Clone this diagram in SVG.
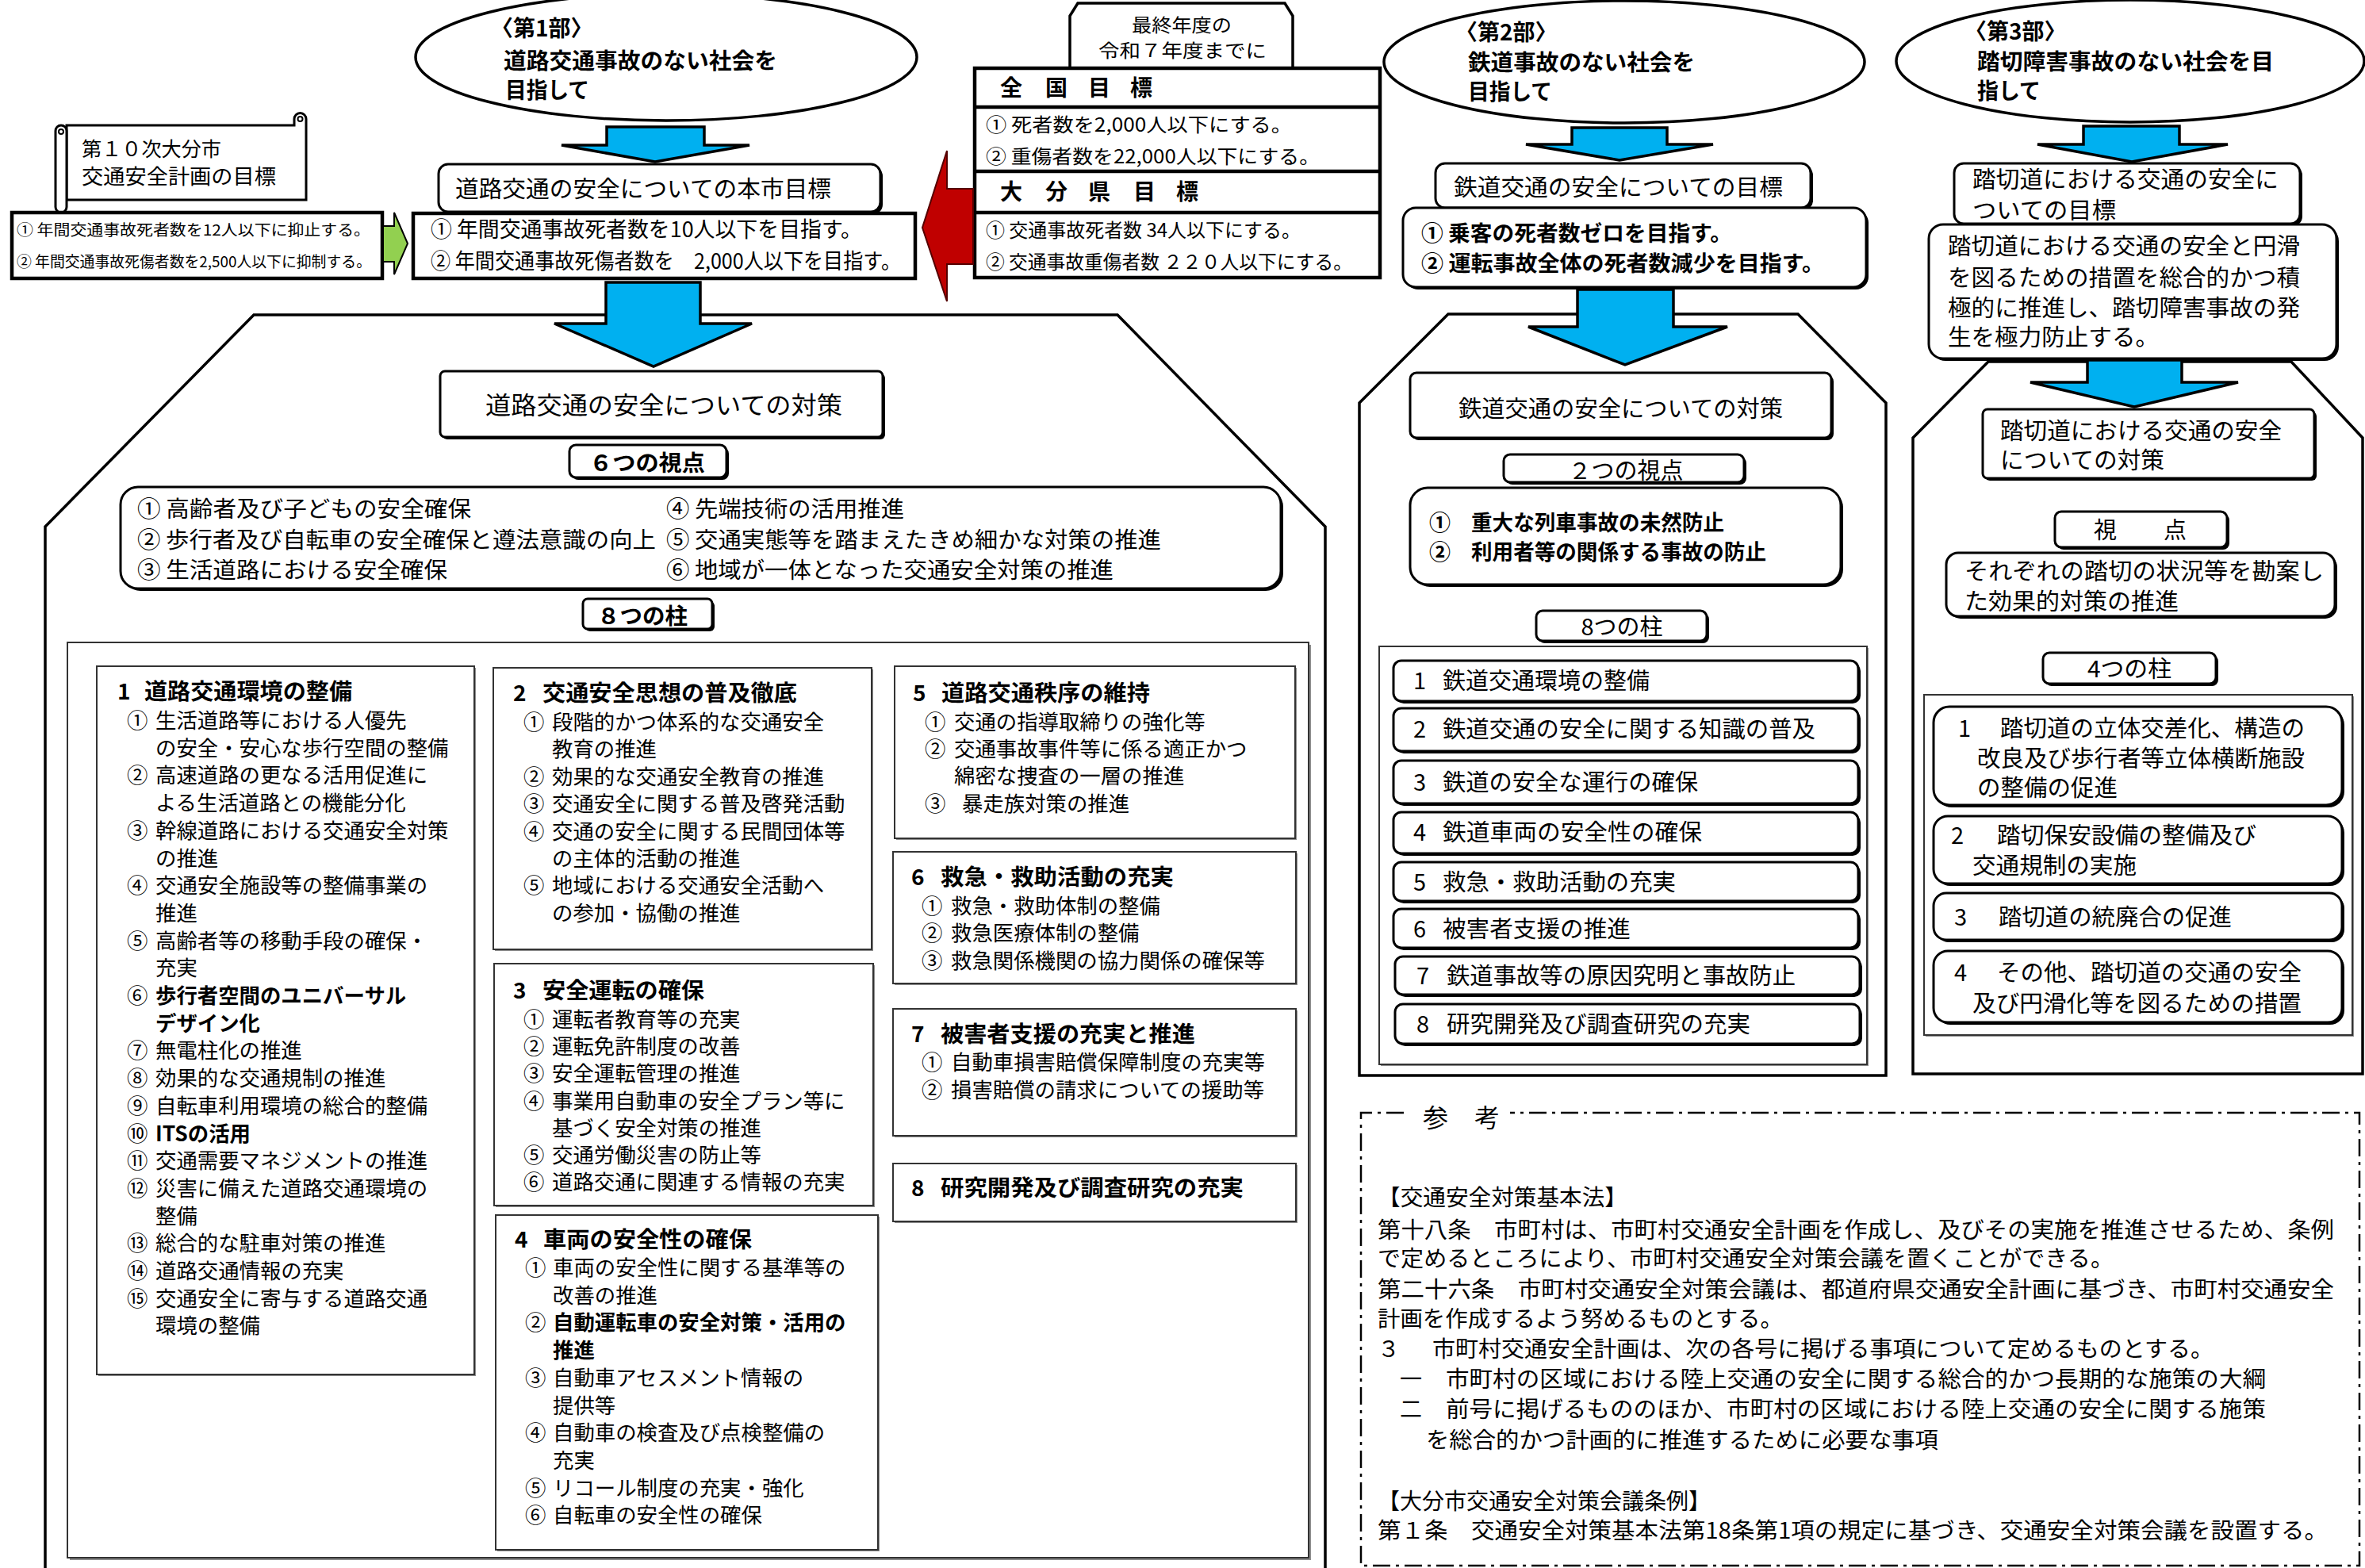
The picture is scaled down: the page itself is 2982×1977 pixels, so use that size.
<svg xmlns="http://www.w3.org/2000/svg" width="2982" height="1977" viewBox="0 0 2982 1977">
<style>
text{font-family:"Noto Sans CJK JP","Noto Sans CJK SC",sans-serif;fill:#000}
.b{font-weight:bold}
.s19{font-size:19px}.s23{font-size:23px}.s24{font-size:24px}.s25{font-size:25px}.s26{font-size:26px}.s265{font-size:26.4px}.s27{font-size:27px}.s28{font-size:28px}.s29{font-size:29px}.s31{font-size:31px}.s32{font-size:32px}
.bx{fill:#fff;stroke:#000;stroke-width:3}
.bx4{fill:#fff;stroke:#000;stroke-width:4.5}
.shd{fill:#000}
.gs{fill:#8c8c8c}
.pl{fill:#fff;stroke:#333;stroke-width:2}
.pan{fill:#fff;stroke:#000;stroke-width:3.5}
.ell{fill:#fff;stroke:#000;stroke-width:3.5}
.arr{fill:#00B0F0;stroke:#000;stroke-width:3.5;stroke-linejoin:miter}
.ln{stroke:#000;stroke-width:4.5;fill:none}
.dd{stroke:#000;stroke-width:2.5;fill:none;stroke-dasharray:22 7 4 7}
</style>

<!-- panels (background) -->
<g id="panel-road">
<path class="pan" d="M57 1985 V664 L320 397 H1409 L1671 664 V1985"/>
</g>
<g id="panel-rail">
<path class="pan" d="M1826 396 H2267 L2378 508 V1356 H1714 V508 Z"/>
</g>
<g id="panel-crossing">
<path class="pan" d="M2507 456 H2889 L2979 552 V1354 H2412 V552 Z"/>
</g>

<!-- top-left scroll -->
<g id="scroll-plan">
<path class="bx" d="M84 158 H371 V150 A7.5 7.5 0 0 1 386 150 V252 H84 Z"/>
<circle cx="378.5" cy="150" r="3" fill="none" stroke="#000" stroke-width="2"/>
<path class="bx" d="M84 165 V261 A7 7 0 0 1 70 261 V165 A7 7 0 0 1 84 165 Z"/>
<circle cx="77" cy="166" r="3" fill="none" stroke="#000" stroke-width="2"/>
<text class="s25" x="103" y="197" textLength="176" lengthAdjust="spacingAndGlyphs">第１０次大分市</text>
<text class="s26" x="103" y="232" textLength="245" lengthAdjust="spacingAndGlyphs">交通安全計画の目標</text>
</g>

<g id="plan10-targets">
<rect class="bx4" x="15" y="268" width="467" height="83"/>
<text class="s19" x="21" y="297" textLength="446" lengthAdjust="spacingAndGlyphs">① 年間交通事故死者数を12人以下に抑止する。</text>
<text class="s19" x="21" y="337" textLength="447" lengthAdjust="spacingAndGlyphs">② 年間交通事故死傷者数を2,500人以下に抑制する。</text>
</g>

<!-- part 1 -->
<g id="part1-ellipse">
<ellipse class="ell" cx="840" cy="72" rx="316" ry="80"/>
<text class="s28 b" x="619" y="46">〈第1部〉</text>
<text class="s28 b" x="635" y="87" textLength="345" lengthAdjust="spacingAndGlyphs">道路交通事故のない社会を</text>
<text class="s28 b" x="637" y="124" textLength="106" lengthAdjust="spacingAndGlyphs">目指して</text>
</g>

<g id="road-goal-title">
<rect class="shd" x="556" y="210" width="557" height="60" rx="12"/>
<rect class="bx" x="553" y="207" width="557" height="60" rx="12"/>
<text class="s29" x="574" y="249" textLength="474" lengthAdjust="spacingAndGlyphs">道路交通の安全についての本市目標</text>
</g>

<g id="road-goal-items">
<rect class="bx4" x="521" y="269" width="633" height="82"/>
<text class="s27" x="543" y="299" textLength="544" lengthAdjust="spacingAndGlyphs">① 年間交通事故死者数を10人以下を目指す。</text>
<text class="s27" x="543" y="339" textLength="593" lengthAdjust="spacingAndGlyphs">② 年間交通事故死傷者数を　2,000人以下を目指す。</text>
</g>

<!-- national / prefecture table -->
<g id="final-year-tab">
<path fill="#fff" stroke="#000" stroke-width="3.5" d="M1349 86 V20 L1359 4 H1620 L1630 20 V86"/>
<text class="s23" x="1427" y="40" textLength="126" lengthAdjust="spacingAndGlyphs">最終年度の</text>
<text class="s23" x="1385" y="72" textLength="212" lengthAdjust="spacingAndGlyphs">令和７年度までに</text>
</g>
<g id="target-table">
<rect class="bx4" x="1229" y="86" width="511" height="264"/>
<line class="ln" x1="1229" y1="135" x2="1740" y2="135"/>
<line class="ln" x1="1229" y1="216" x2="1740" y2="216"/>
<line class="ln" x1="1229" y1="268" x2="1740" y2="268"/>
<text class="s28 b" x="1261" y="121">全</text><text class="s28 b" x="1318" y="121">国</text><text class="s28 b" x="1372" y="121">目</text><text class="s28 b" x="1425" y="121">標</text>
<text class="s24" x="1243" y="166" textLength="386" lengthAdjust="spacingAndGlyphs">① 死者数を2,000人以下にする。</text>
<text class="s24" x="1243" y="206" textLength="421" lengthAdjust="spacingAndGlyphs">② 重傷者数を22,000人以下にする。</text>
<text class="s28 b" x="1261" y="252">大</text><text class="s28 b" x="1318" y="252">分</text><text class="s28 b" x="1372" y="252">県</text><text class="s28 b" x="1429" y="252">目</text><text class="s28 b" x="1483" y="252">標</text>
<text class="s24" x="1243" y="299" textLength="397" lengthAdjust="spacingAndGlyphs">① 交通事故死者数 34人以下にする。</text>
<text class="s24" x="1243" y="339" textLength="462" lengthAdjust="spacingAndGlyphs">② 交通事故重傷者数 ２２０人以下にする。</text>
</g>

<!-- part 2 -->
<g id="part2-ellipse">
<ellipse class="ell" cx="2048" cy="78" rx="303" ry="77"/>
<text class="s28 b" x="1835" y="51">〈第2部〉</text>
<text class="s28 b" x="1851" y="89" textLength="286" lengthAdjust="spacingAndGlyphs">鉄道事故のない社会を</text>
<text class="s28 b" x="1851" y="126" textLength="106" lengthAdjust="spacingAndGlyphs">目指して</text>
</g>
<g id="rail-goal-title">
<rect class="shd" x="1813" y="209" width="473" height="56" rx="12"/>
<rect class="bx" x="1810" y="206" width="473" height="56" rx="12"/>
<text class="s29" x="1833" y="247" textLength="415" lengthAdjust="spacingAndGlyphs">鉄道交通の安全についての目標</text>
</g>
<g id="rail-goal-items">
<rect class="shd" x="1772" y="265" width="584" height="100" rx="16"/>
<rect class="bx" x="1769" y="262" width="584" height="100" rx="16"/>
<text class="s27 b" x="1792" y="304" textLength="392" lengthAdjust="spacingAndGlyphs">① 乗客の死者数ゼロを目指す。</text>
<text class="s27 b" x="1792" y="342" textLength="508" lengthAdjust="spacingAndGlyphs">② 運転事故全体の死者数減少を目指す。</text>
</g>

<!-- part 3 -->
<g id="part3-ellipse">
<ellipse class="ell" cx="2686" cy="77" rx="295" ry="77"/>
<text class="s28 b" x="2477" y="50">〈第3部〉</text>
<text class="s28 b" x="2493" y="88" textLength="374" lengthAdjust="spacingAndGlyphs">踏切障害事故のない社会を目</text>
<text class="s28 b" x="2493" y="125" textLength="80" lengthAdjust="spacingAndGlyphs">指して</text>
</g>
<g id="crossing-goal-title">
<rect class="shd" x="2467" y="209" width="436" height="76" rx="12"/>
<rect class="bx" x="2464" y="206" width="436" height="76" rx="12"/>
<text class="s29" x="2487" y="237" textLength="386" lengthAdjust="spacingAndGlyphs">踏切道における交通の安全に</text>
<text class="s29" x="2487" y="276" textLength="181" lengthAdjust="spacingAndGlyphs">ついての目標</text>
</g>
<g id="crossing-goal-text">
<rect class="shd" x="2435" y="286" width="514" height="169" rx="18"/>
<rect class="bx" x="2432" y="283" width="514" height="169" rx="18"/>
<text class="s29" x="2456" y="321" textLength="444" lengthAdjust="spacingAndGlyphs">踏切道における交通の安全と円滑</text>
<text class="s29" x="2456" y="361" textLength="444" lengthAdjust="spacingAndGlyphs">を図るための措置を総合的かつ積</text>
<text class="s29" x="2456" y="399" textLength="444" lengthAdjust="spacingAndGlyphs">極的に推進し、踏切障害事故の発</text>
<text class="s29" x="2456" y="436" textLength="266" lengthAdjust="spacingAndGlyphs">生を極力防止する。</text>
</g>

<!-- connectors -->
<g id="connectors">
<path class="arr" d="M765 160 H888 V183 H945 L826 204 L708 183 H765 Z"/>
<path class="arr" d="M1982 161 H2102 V182 H2160 L2042 202 L1924 182 H1982 Z"/>
<path class="arr" d="M2627 159 H2748 V182 H2809 L2688 204 L2569 182 H2627 Z"/>
<path class="arr" d="M764 356 H883 V408 H948 L824 462 L699 408 H764 Z"/>
<path class="arr" d="M1989 365 H2110 V412 H2178 L2049 460 L1927 412 H1989 Z"/>
<path class="arr" d="M2632 454 H2751 V482 H2822 L2691 513 L2560 482 H2632 Z"/>
<path fill="#92D050" stroke="#000" stroke-width="2" d="M483 285 H497 V268 L514 307 L497 346 V330 H483 Z"/>
<path fill="#C00000" stroke="#500" stroke-width="2" d="M1227 238 H1194 V190 L1163 287 L1194 380 V333 H1227 Z"/>
</g>

<!-- road panel contents -->
<g id="road-measures-title">
<rect class="shd" x="558" y="471" width="558" height="83" rx="6"/>
<rect class="bx" x="555" y="468" width="558" height="83" rx="6"/>
<text class="s31" x="612" y="522" textLength="450" lengthAdjust="spacingAndGlyphs">道路交通の安全についての対策</text>
</g>
<g id="road-6-viewpoints-label">
<rect class="shd" x="721" y="564" width="198" height="41" rx="8"/>
<rect class="bx" x="718" y="561" width="198" height="41" rx="8"/>
<text class="s28 b" x="743" y="594" textLength="146" lengthAdjust="spacingAndGlyphs">６つの視点</text>
</g>
<g id="road-viewpoints">
<rect class="shd" x="155" y="617" width="1463" height="128" rx="22"/>
<rect class="bx" x="152" y="614" width="1463" height="128" rx="22"/>
<text class="s28" x="173" y="652" textLength="421" lengthAdjust="spacingAndGlyphs">① 高齢者及び子どもの安全確保</text>
<text class="s28" x="173" y="691" textLength="654" lengthAdjust="spacingAndGlyphs">② 歩行者及び自転車の安全確保と遵法意識の向上</text>
<text class="s28" x="173" y="729" textLength="391" lengthAdjust="spacingAndGlyphs">③ 生活道路における安全確保</text>
<text class="s28" x="840" y="652" textLength="300" lengthAdjust="spacingAndGlyphs">④ 先端技術の活用推進</text>
<text class="s28" x="840" y="691" textLength="624" lengthAdjust="spacingAndGlyphs">⑤ 交通実態等を踏まえたきめ細かな対策の推進</text>
<text class="s28" x="840" y="729" textLength="564" lengthAdjust="spacingAndGlyphs">⑥ 地域が一体となった交通安全対策の推進</text>
</g>
<g id="road-8-pillars-label">
<rect class="shd" x="738" y="758" width="163" height="38" rx="6"/>
<rect class="bx" x="735" y="755" width="163" height="38" rx="6"/>
<text class="s28 b" x="753" y="787" textLength="114" lengthAdjust="spacingAndGlyphs">８つの柱</text>
</g>
<g id="road-pillars-frame">
<rect class="gs" x="88" y="813" width="1565" height="1154"/>
<rect class="pl" x="85" y="810" width="1565" height="1154"/>
</g>

<g id="road-pillar-1">
<rect class="gs" x="124" y="842" width="476" height="893"/>
<rect class="pl" x="122" y="840" width="476" height="893"/>
<text class="s28 b" x="148" y="882">1</text>
<text class="s28 b" x="182" y="882" textLength="262" lengthAdjust="spacingAndGlyphs">道路交通環境の整備</text>
<g class="s265">
<text x="160" y="918">①</text><text x="196" y="918">生活道路等における人優先</text>
<text x="196" y="952.7">の安全・安心な歩行空間の整備</text>
<text x="160" y="987.4">②</text><text x="196" y="987.4">高速道路の更なる活用促進に</text>
<text x="196" y="1022.1">よる生活道路との機能分化</text>
<text x="160" y="1056.8">③</text><text x="196" y="1056.8">幹線道路における交通安全対策</text>
<text x="196" y="1091.5">の推進</text>
<text x="160" y="1126.2">④</text><text x="196" y="1126.2">交通安全施設等の整備事業の</text>
<text x="196" y="1160.9">推進</text>
<text x="160" y="1195.6">⑤</text><text x="196" y="1195.6">高齢者等の移動手段の確保・</text>
<text x="196" y="1230.3">充実</text>
<text x="160" y="1265">⑥</text><text class="b" x="196" y="1265">歩行者空間のユニバーサル</text>
<text class="b" x="196" y="1299.7">デザイン化</text>
<text x="160" y="1334.4">⑦</text><text x="196" y="1334.4">無電柱化の推進</text>
<text x="160" y="1369.1">⑧</text><text x="196" y="1369.1">効果的な交通規制の推進</text>
<text x="160" y="1403.8">⑨</text><text x="196" y="1403.8">自転車利用環境の総合的整備</text>
<text x="160" y="1438.5">⑩</text><text class="b" x="196" y="1438.5">ITSの活用</text>
<text x="160" y="1473.2">⑪</text><text x="196" y="1473.2">交通需要マネジメントの推進</text>
<text x="160" y="1507.9">⑫</text><text x="196" y="1507.9">災害に備えた道路交通環境の</text>
<text x="196" y="1542.6">整備</text>
<text x="160" y="1577.3">⑬</text><text x="196" y="1577.3">総合的な駐車対策の推進</text>
<text x="160" y="1612">⑭</text><text x="196" y="1612">道路交通情報の充実</text>
<text x="160" y="1646.7">⑮</text><text x="196" y="1646.7">交通安全に寄与する道路交通</text>
<text x="196" y="1681.4">環境の整備</text>
</g>
</g>

<g id="road-pillar-2">
<rect class="gs" x="624" y="844" width="477" height="355"/>
<rect class="pl" x="622" y="842" width="477" height="355"/>
<text class="s28 b" x="647" y="884">2</text>
<text class="s28 b" x="684" y="884" textLength="321" lengthAdjust="spacingAndGlyphs">交通安全思想の普及徹底</text>
<g class="s265">
<text x="660" y="920">①</text><text x="696" y="920">段階的かつ体系的な交通安全</text>
<text x="696" y="954.4">教育の推進</text>
<text x="660" y="988.8">②</text><text x="696" y="988.8">効果的な交通安全教育の推進</text>
<text x="660" y="1023.2">③</text><text x="696" y="1023.2">交通安全に関する普及啓発活動</text>
<text x="660" y="1057.6">④</text><text x="696" y="1057.6">交通の安全に関する民間団体等</text>
<text x="696" y="1092">の主体的活動の推進</text>
<text x="660" y="1126.4">⑤</text><text x="696" y="1126.4">地域における交通安全活動へ</text>
<text x="696" y="1160.8">の参加・協働の推進</text>
</g>
</g>

<g id="road-pillar-3">
<rect class="gs" x="625" y="1217" width="478" height="305"/>
<rect class="pl" x="623" y="1215" width="478" height="305"/>
<text class="s28 b" x="647" y="1259">3</text>
<text class="s28 b" x="684" y="1259" textLength="204" lengthAdjust="spacingAndGlyphs">安全運転の確保</text>
<g class="s265">
<text x="660" y="1295">①</text><text x="696" y="1295">運転者教育等の充実</text>
<text x="660" y="1329.2">②</text><text x="696" y="1329.2">運転免許制度の改善</text>
<text x="660" y="1363.4">③</text><text x="696" y="1363.4">安全運転管理の推進</text>
<text x="660" y="1397.6">④</text><text x="696" y="1397.6">事業用自動車の安全プラン等に</text>
<text x="696" y="1431.8">基づく安全対策の推進</text>
<text x="660" y="1466">⑤</text><text x="696" y="1466">交通労働災害の防止等</text>
<text x="660" y="1500.2">⑥</text><text x="696" y="1500.2">道路交通に関連する情報の充実</text>
</g>
</g>

<g id="road-pillar-4">
<rect class="gs" x="627" y="1534" width="482" height="422"/>
<rect class="pl" x="625" y="1532" width="482" height="422"/>
<text class="s28 b" x="649" y="1573">4</text>
<text class="s28 b" x="685" y="1573" textLength="263" lengthAdjust="spacingAndGlyphs">車両の安全性の確保</text>
<g class="s265">
<text x="662" y="1608">①</text><text x="697" y="1608">車両の安全性に関する基準等の</text>
<text x="697" y="1642.7">改善の推進</text>
<text x="662" y="1677.4">②</text><text class="b" x="697" y="1677.4">自動運転車の安全対策・活用の</text>
<text class="b" x="697" y="1712.1">推進</text>
<text x="662" y="1746.8">③</text><text x="697" y="1746.8">自動車アセスメント情報の</text>
<text x="697" y="1781.5">提供等</text>
<text x="662" y="1816.2">④</text><text x="697" y="1816.2">自動車の検査及び点検整備の</text>
<text x="697" y="1850.9">充実</text>
<text x="662" y="1885.6">⑤</text><text x="697" y="1885.6">リコール制度の充実・強化</text>
<text x="662" y="1920.3">⑥</text><text x="697" y="1920.3">自転車の安全性の確保</text>
</g>
</g>

<g id="road-pillar-5">
<rect class="gs" x="1130" y="842" width="505" height="217"/>
<rect class="pl" x="1128" y="840" width="505" height="217"/>
<text class="s28 b" x="1151" y="884">5</text>
<text class="s28 b" x="1187" y="884" textLength="263" lengthAdjust="spacingAndGlyphs">道路交通秩序の維持</text>
<g class="s265">
<text x="1166" y="920">①</text><text x="1203" y="920">交通の指導取締りの強化等</text>
<text x="1166" y="954">②</text><text x="1203" y="954">交通事故事件等に係る適正かつ</text>
<text x="1203" y="988">綿密な捜査の一層の推進</text>
<text x="1166" y="1023">③</text><text x="1213" y="1023">暴走族対策の推進</text>
</g>
</g>

<g id="road-pillar-6">
<rect class="gs" x="1128" y="1076" width="508" height="166"/>
<rect class="pl" x="1126" y="1074" width="508" height="166"/>
<text class="s28 b" x="1149" y="1116">6</text>
<text class="s28 b" x="1186" y="1116" textLength="294" lengthAdjust="spacingAndGlyphs">救急・救助活動の充実</text>
<g class="s265">
<text x="1162" y="1152">①</text><text x="1199" y="1152">救急・救助体制の整備</text>
<text x="1162" y="1186">②</text><text x="1199" y="1186">救急医療体制の整備</text>
<text x="1162" y="1221">③</text><text x="1199" y="1221">救急関係機関の協力関係の確保等</text>
</g>
</g>

<g id="road-pillar-7">
<rect class="gs" x="1128" y="1274" width="508" height="160"/>
<rect class="pl" x="1126" y="1272" width="508" height="160"/>
<text class="s28 b" x="1149" y="1314">7</text>
<text class="s28 b" x="1186" y="1314" textLength="321" lengthAdjust="spacingAndGlyphs">被害者支援の充実と推進</text>
<g class="s265">
<text x="1162" y="1349">①</text><text x="1199" y="1349">自動車損害賠償保障制度の充実等</text>
<text x="1162" y="1384">②</text><text x="1199" y="1384">損害賠償の請求についての援助等</text>
</g>
</g>

<g id="road-pillar-8">
<rect class="gs" x="1128" y="1469" width="508" height="73"/>
<rect class="pl" x="1126" y="1467" width="508" height="73"/>
<text class="s28 b" x="1149" y="1508">8</text>
<text class="s28 b" x="1186" y="1508" textLength="382" lengthAdjust="spacingAndGlyphs">研究開発及び調査研究の充実</text>
</g>

<!-- rail panel contents -->
<g id="rail-measures-title">
<rect class="shd" x="1781" y="473" width="531" height="82" rx="8"/>
<rect class="bx" x="1778" y="470" width="531" height="82" rx="8"/>
<text class="s29" x="1839" y="526" textLength="409" lengthAdjust="spacingAndGlyphs">鉄道交通の安全についての対策</text>
</g>
<g id="rail-2-viewpoints-label">
<rect class="shd" x="1899" y="576" width="303" height="35" rx="8"/>
<rect class="bx" x="1896" y="573" width="303" height="35" rx="8"/>
<text class="s29" x="2050" y="604" text-anchor="middle" textLength="145" lengthAdjust="spacingAndGlyphs">２つの視点</text>
</g>
<g id="rail-viewpoints">
<rect class="shd" x="1781" y="618" width="543" height="122" rx="22"/>
<rect class="bx" x="1778" y="615" width="543" height="122" rx="22"/>
<text class="s27 b" x="1802" y="669">①</text>
<text class="s27 b" x="1855" y="669" textLength="319" lengthAdjust="spacingAndGlyphs">重大な列車事故の未然防止</text>
<text class="s27 b" x="1802" y="706">②</text>
<text class="s27 b" x="1855" y="706" textLength="372" lengthAdjust="spacingAndGlyphs">利用者等の関係する事故の防止</text>
</g>
<g id="rail-8-pillars-label">
<rect class="shd" x="1940" y="773" width="215" height="38" rx="8"/>
<rect class="bx" x="1937" y="770" width="215" height="38" rx="8"/>
<text class="s29" x="2045" y="801" text-anchor="middle" textLength="103" lengthAdjust="spacingAndGlyphs">8つの柱</text>
</g>
<g id="rail-pillars-frame">
<rect class="gs" x="1741" y="817" width="615" height="527"/>
<rect class="pl" x="1739" y="815" width="615" height="527"/>
</g>
<g id="rail-pillar-1"><rect class="shd" x="1760" y="836" width="586" height="51" rx="10"/><rect class="bx" x="1757" y="833" width="586" height="51" rx="10"/><text class="s29" x="1782" y="869">1</text><text class="s29" x="1819" y="869" textLength="261" lengthAdjust="spacingAndGlyphs">鉄道交通環境の整備</text></g>
<g id="rail-pillar-2"><rect class="shd" x="1760" y="896" width="586" height="54" rx="10"/><rect class="bx" x="1757" y="893" width="586" height="54" rx="10"/><text class="s29" x="1782" y="930">2</text><text class="s29" x="1819" y="930" textLength="470" lengthAdjust="spacingAndGlyphs">鉄道交通の安全に関する知識の普及</text></g>
<g id="rail-pillar-3"><rect class="shd" x="1760" y="962" width="586" height="54" rx="10"/><rect class="bx" x="1757" y="959" width="586" height="54" rx="10"/><text class="s29" x="1782" y="997">3</text><text class="s29" x="1819" y="997" textLength="322" lengthAdjust="spacingAndGlyphs">鉄道の安全な運行の確保</text></g>
<g id="rail-pillar-4"><rect class="shd" x="1760" y="1027" width="586" height="52" rx="10"/><rect class="bx" x="1757" y="1024" width="586" height="52" rx="10"/><text class="s29" x="1782" y="1060">4</text><text class="s29" x="1819" y="1060" textLength="327" lengthAdjust="spacingAndGlyphs">鉄道車両の安全性の確保</text></g>
<g id="rail-pillar-5"><rect class="shd" x="1760" y="1090" width="586" height="49" rx="10"/><rect class="bx" x="1757" y="1087" width="586" height="49" rx="10"/><text class="s29" x="1782" y="1123">5</text><text class="s29" x="1819" y="1123" textLength="294" lengthAdjust="spacingAndGlyphs">救急・救助活動の充実</text></g>
<g id="rail-pillar-6"><rect class="shd" x="1760" y="1149" width="586" height="49" rx="10"/><rect class="bx" x="1757" y="1146" width="586" height="49" rx="10"/><text class="s29" x="1782" y="1182">6</text><text class="s29" x="1819" y="1182" textLength="237" lengthAdjust="spacingAndGlyphs">被害者支援の推進</text></g>
<g id="rail-pillar-7"><rect class="shd" x="1762" y="1209" width="586" height="48" rx="10"/><rect class="bx" x="1759" y="1206" width="586" height="48" rx="10"/><text class="s29" x="1786" y="1241">7</text><text class="s29" x="1824" y="1241" textLength="440" lengthAdjust="spacingAndGlyphs">鉄道事故等の原因究明と事故防止</text></g>
<g id="rail-pillar-8"><rect class="shd" x="1762" y="1269" width="586" height="50" rx="10"/><rect class="bx" x="1759" y="1266" width="586" height="50" rx="10"/><text class="s29" x="1786" y="1302">8</text><text class="s29" x="1824" y="1302" textLength="383" lengthAdjust="spacingAndGlyphs">研究開発及び調査研究の充実</text></g>

<!-- crossing panel contents -->
<g id="crossing-measures-title">
<rect class="shd" x="2503" y="519" width="418" height="87" rx="6"/>
<rect class="bx" x="2500" y="516" width="418" height="87" rx="6"/>
<text class="s29" x="2522" y="554" textLength="355" lengthAdjust="spacingAndGlyphs">踏切道における交通の安全</text>
<text class="s29" x="2522" y="591" textLength="207" lengthAdjust="spacingAndGlyphs">についての対策</text>
</g>
<g id="crossing-viewpoint-label">
<rect class="shd" x="2594" y="648" width="217" height="45" rx="8"/>
<rect class="bx" x="2591" y="645" width="217" height="45" rx="8"/>
<text class="s29" x="2640" y="679">視</text>
<text class="s29" x="2728" y="679">点</text>
</g>
<g id="crossing-viewpoint">
<rect class="shd" x="2457" y="700" width="490" height="80" rx="15"/>
<rect class="bx" x="2454" y="697" width="490" height="80" rx="15"/>
<text class="s29" x="2477" y="731" textLength="453" lengthAdjust="spacingAndGlyphs">それぞれの踏切の状況等を勘案し</text>
<text class="s29" x="2477" y="769" textLength="270" lengthAdjust="spacingAndGlyphs">た効果的対策の推進</text>
</g>
<g id="crossing-4-pillars-label">
<rect class="shd" x="2579" y="826" width="218" height="39" rx="8"/>
<rect class="bx" x="2576" y="823" width="218" height="39" rx="8"/>
<text class="s29" x="2685" y="854" text-anchor="middle" textLength="106" lengthAdjust="spacingAndGlyphs">4つの柱</text>
</g>
<g id="crossing-pillars-frame">
<rect class="gs" x="2428" y="878" width="540" height="429"/>
<rect class="pl" x="2426" y="876" width="540" height="429"/>
</g>
<g id="crossing-pillar-1">
<rect class="shd" x="2441" y="894" width="515" height="124" rx="20"/>
<rect class="bx" x="2438" y="891" width="515" height="124" rx="20"/>
<text class="s29" x="2469" y="929">1</text>
<text class="s29" x="2522" y="929" textLength="384" lengthAdjust="spacingAndGlyphs">踏切道の立体交差化、構造の</text>
<text class="s29" x="2493" y="967" textLength="413" lengthAdjust="spacingAndGlyphs">改良及び歩行者等立体横断施設</text>
<text class="s29" x="2493" y="1004" textLength="177" lengthAdjust="spacingAndGlyphs">の整備の促進</text>
</g>
<g id="crossing-pillar-2">
<rect class="shd" x="2441" y="1032" width="515" height="85" rx="18"/>
<rect class="bx" x="2438" y="1029" width="515" height="85" rx="18"/>
<text class="s29" x="2460" y="1064">2</text>
<text class="s29" x="2518" y="1064" textLength="327" lengthAdjust="spacingAndGlyphs">踏切保安設備の整備及び</text>
<text class="s29" x="2487" y="1102" textLength="207" lengthAdjust="spacingAndGlyphs">交通規制の実施</text>
</g>
<g id="crossing-pillar-3">
<rect class="shd" x="2441" y="1129" width="515" height="59" rx="16"/>
<rect class="bx" x="2438" y="1126" width="515" height="59" rx="16"/>
<text class="s29" x="2464" y="1167">3</text>
<text class="s29" x="2520" y="1167" textLength="294" lengthAdjust="spacingAndGlyphs">踏切道の統廃合の促進</text>
</g>
<g id="crossing-pillar-4">
<rect class="shd" x="2441" y="1202" width="515" height="90" rx="18"/>
<rect class="bx" x="2438" y="1199" width="515" height="90" rx="18"/>
<text class="s29" x="2464" y="1237">4</text>
<text class="s29" x="2518" y="1237" textLength="384" lengthAdjust="spacingAndGlyphs">その他、踏切道の交通の安全</text>
<text class="s29" x="2487" y="1276" textLength="415" lengthAdjust="spacingAndGlyphs">及び円滑化等を図るための措置</text>
</g>

<!-- reference box -->
<g id="reference">
<path class="dd" d="M1770 1403 H1716 V1974 H2975 V1403 H1904"/>
<text class="s32" x="1794" y="1421">参</text>
<text class="s32" x="1859" y="1421">考</text>
<g class="s28">
<text x="1737" y="1520" textLength="315" lengthAdjust="spacingAndGlyphs">【交通安全対策基本法】</text>
<text x="1737" y="1561" textLength="1206" lengthAdjust="spacingAndGlyphs">第十八条　市町村は、市町村交通安全計画を作成し、及びその実施を推進させるため、条例</text>
<text x="1737" y="1597" textLength="928" lengthAdjust="spacingAndGlyphs">で定めるところにより、市町村交通安全対策会議を置くことができる。</text>
<text x="1737" y="1636" textLength="1206" lengthAdjust="spacingAndGlyphs">第二十六条　市町村交通安全対策会議は、都道府県交通安全計画に基づき、市町村交通安全</text>
<text x="1737" y="1673" textLength="511" lengthAdjust="spacingAndGlyphs">計画を作成するよう努めるものとする。</text>
<text x="1737" y="1711">３</text>
<text x="1806" y="1711" textLength="985" lengthAdjust="spacingAndGlyphs">市町村交通安全計画は、次の各号に掲げる事項について定めるものとする。</text>
<text x="1765" y="1749">一</text>
<text x="1823" y="1749" textLength="1034" lengthAdjust="spacingAndGlyphs">市町村の区域における陸上交通の安全に関する総合的かつ長期的な施策の大綱</text>
<text x="1765" y="1787">二</text>
<text x="1823" y="1787" textLength="1034" lengthAdjust="spacingAndGlyphs">前号に掲げるもののほか、市町村の区域における陸上交通の安全に関する施策</text>
<text x="1798" y="1826" textLength="646" lengthAdjust="spacingAndGlyphs">を総合的かつ計画的に推進するために必要な事項</text>
<text x="1737" y="1903" textLength="420" lengthAdjust="spacingAndGlyphs">【大分市交通安全対策会議条例】</text>
<text x="1737" y="1940" textLength="1198" lengthAdjust="spacingAndGlyphs">第１条　交通安全対策基本法第18条第1項の規定に基づき、交通安全対策会議を設置する。</text>
</g>
</g>
</svg>
